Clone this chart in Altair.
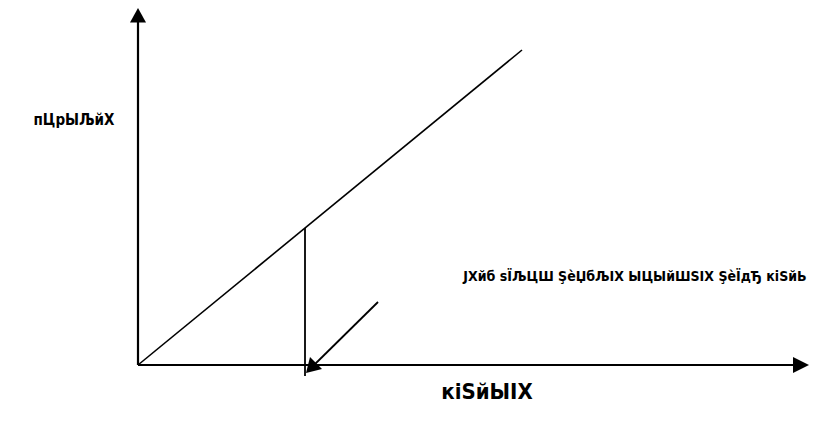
import altair as alt
import pandas as pd

# Diagram coordinates (origin at the axes' corner)
seg_names = ["x_axis", "y_axis", "diagonal", "vertical", "pointer"]
seg_x1 = [0, 0, 0, 167, 240]
seg_y1 = [0, 0, 0, 137, 63]
seg_x2 = [664, 0, 384, 167, 173]
seg_y2 = [0, 351, 315, -11, -3]
seg_w = [2.2, 2.2, 1.6, 1.8, 1.8]

head_names = ["x_head", "y_head", "pointer_head"]
head_x = [671, 0, 168]
head_y = [0, 357, -8]

labels = ["пЦрЫЉйХ", "JХйб sЇЉЦШ ŞèЏбЉІХ ЫЦЫйШSІХ ŞèЇдЂ кіSйЬ", "кіSйЫІХ"]
label_x = [-64, 497, 349]
label_y = [245, 88, -27]
label_size = [15, 14, 22]

xs = alt.Scale(domain=[-130, 671], zero=False, nice=False)
ys = alt.Scale(domain=[-48, 357], zero=False, nice=False)

segs = pd.DataFrame(dict(name=seg_names, x=seg_x1, y=seg_y1, x2=seg_x2, y2=seg_y2, w=seg_w))
heads = pd.DataFrame(dict(name=head_names, x=head_x, y=head_y))
texts = pd.DataFrame(dict(t=labels, x=label_x, y=label_y, s=label_size))

rules = alt.Chart(segs).mark_rule(color="black").encode(
    x=alt.X("x:Q", scale=xs, axis=None),
    y=alt.Y("y:Q", scale=ys, axis=None),
    x2="x2:Q",
    y2="y2:Q",
    strokeWidth=alt.StrokeWidth("w:Q", scale=None, legend=None),
)

shapes = {
    "x_head": "M 0 0 L -2 -1 L -2 1 Z",
    "y_head": "M 0 0 L -1 1.8 L 1 1.8 Z",
    "pointer_head": "M 0 0 L 2 -0.5 L 0.5 -2 Z",
}

head_layers = []
for n in head_names:
    head_layers.append(
        alt.Chart(heads[heads.name == n]).mark_point(
            shape=shapes[n], filled=True, size=256, color="black", opacity=1, strokeWidth=0
        ).encode(
            x=alt.X("x:Q", scale=xs, axis=None),
            y=alt.Y("y:Q", scale=ys, axis=None),
        )
    )

txt_layers = []
for i in range(len(labels)):
    txt_layers.append(
        alt.Chart(texts.iloc[[i]]).mark_text(
            font="Liberation Sans Narrow, DejaVu Sans Condensed, Arial Narrow, sans-serif",
            fontWeight="bold", fontSize=label_size[i], color="black",
            align="center", baseline="middle",
        ).encode(
            x=alt.X("x:Q", scale=xs, axis=None),
            y=alt.Y("y:Q", scale=ys, axis=None),
            text="t:N",
        )
    )

chart = alt.layer(rules, *head_layers, *txt_layers).properties(
    width=801, height=405, padding=0,
    autosize=alt.AutoSizeParams(type="none"),
    background="white",
).configure_view(stroke=None)

chart.save("out.html", embed_options={"renderer": "svg", "actions": False})
